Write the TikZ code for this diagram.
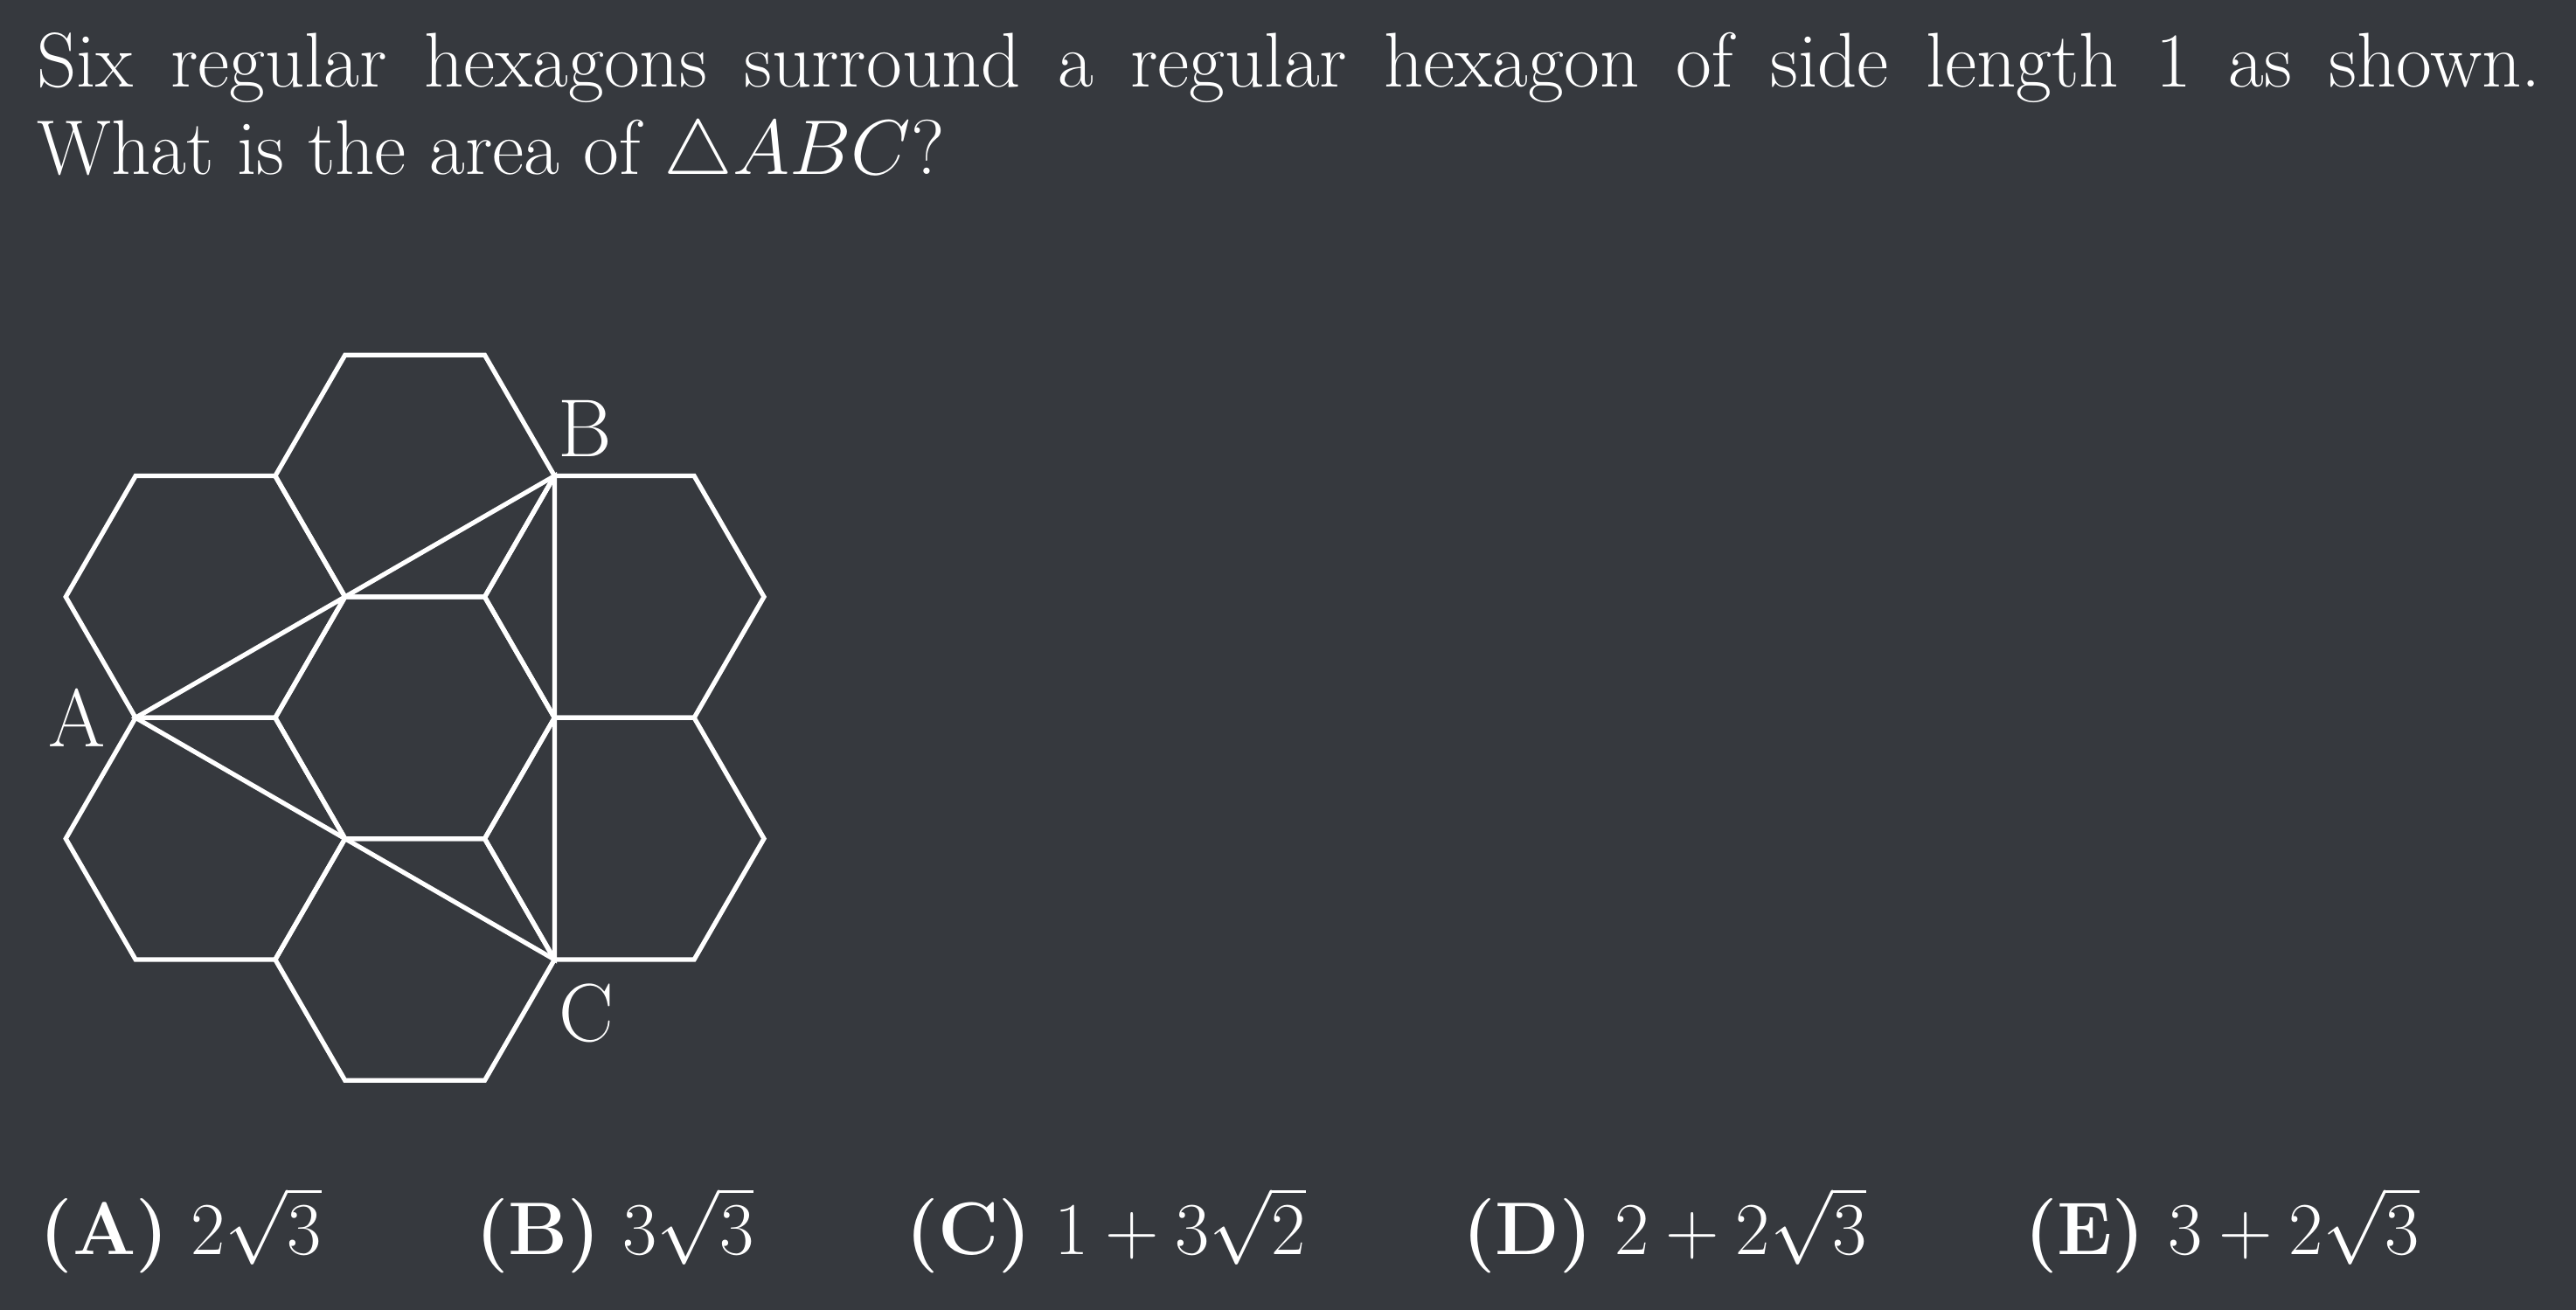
\RequirePackage{fix-cm}
\documentclass[tikz,border=0pt]{standalone}
\usepackage{amsmath,amssymb}
\usepackage{fontspec}
\definecolor{bgdark}{RGB}{54,57,62}

\begin{document}
\begin{tikzpicture}[x=42.5pt,y=42.5pt]
	\fill[bgdark] (-2.971,-4.242) rectangle (15.476,5.141);
	\useasboundingbox (-2.971,-4.242) rectangle (15.476,5.141);
	\begin{scope}[white]
	
	\tikzstyle{hexline}=[draw=white,
	line width=1.4pt
	]
	\tikzstyle{ptlabel}=[text=white,
	inner sep=0pt,
	font=\fontsize{25}{30}\selectfont
	]
	\tikzstyle{qtext}=[text=white,
	anchor=base west,
	inner sep=0pt,
	font=\fontsize{23.6}{28}\selectfont
	]
	\tikzstyle{anstext}=[text=white,
	anchor=base west,
	inner sep=0pt,
	font=\fontsize{22.7}{26.5}\selectfont
	]
	
	% centres of the seven hexagons
	\coordinate (c0) at (0, 0);
	\coordinate (c1) at (1.5, 0.866);
	\coordinate (c2) at (0, 1.732);
	\coordinate (c3) at (-1.5, 0.866);
	\coordinate (c4) at (-1.5, -0.866);
	\coordinate (c5) at (0, -1.732);
	\coordinate (c6) at (1.5, -0.866);
	
	\foreach \c in {c0,c1,c2,c3,c4,c5,c6}
	\draw[hexline] (\c) ++(0:1) -- ++(120:1) -- ++(180:1) -- ++(240:1)
	-- ++(300:1) -- ++(0:1) -- cycle;
	
	% triangle
	\coordinate (A) at (-2, 0);
	\coordinate (B) at (1, 1.732);
	\coordinate (C) at (1, -1.732);
	
	\draw[hexline] (A) -- (B) -- (C) -- cycle;
	
	\node[ptlabel] (la) at (-2.418, 0) {A};
	\node[ptlabel] (lb) at (1.218, 2.071) {B};
	\node[ptlabel] (lc) at (1.229, -2.118) {C};
	
	% question
	\node[qtext] (q1) at (-2.710, 4.518) {\makebox[762pt][s]{Six regular hexagons surround a regular hexagon of side length 1 as shown.}};
	\node[qtext] (q2) at (-2.710, 3.894) {What is the area of $\triangle ABC$?};
	
	% choices
	\node[anstext] (ansa) at (-2.690, -3.847) {\textbf{(A)} $2\sqrt{3}$};
	\node[anstext] (ansb) at (0.430, -3.847) {\textbf{(B)} $3\sqrt{3}$};
	\node[anstext] (ansc) at (3.510, -3.847) {\textbf{(C)} $1+3\sqrt{2}$};
	\node[anstext] (ansd) at (7.500, -3.847) {\textbf{(D)} $2+2\sqrt{3}$};
	\node[anstext] (anse) at (11.525, -3.847) {\textbf{(E)} $3+2\sqrt{3}$};
	
	\end{scope}
\end{tikzpicture}
\end{document}
